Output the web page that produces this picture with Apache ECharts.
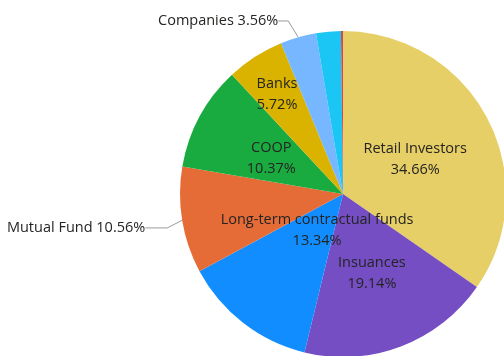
<!DOCTYPE html>
<html>
<head>
<meta charset="utf-8">
<script src="https://cdn.jsdelivr.net/npm/echarts@6/dist/echarts.min.js"></script>
<style>
  html, body { margin: 0; padding: 0; background: #ffffff; }
  #chart { width: 504px; height: 356px; }
</style>
</head>
<body>
<div id="chart"></div>
<script>
// Ownership structure by investor type (share of total, %)
const holders = ['Retail Investors', 'Insuances', 'Long-term contractual funds', 'Mutual Fund',
                 'COOP', 'Banks', 'Companies', 'Foreign Investors', 'Others'];
const shares = [34.66, 19.14, 13.34, 10.56, 10.37, 5.72, 3.56, 2.45, 0.20];

const palette = ['#E6CF66', '#744EC2', '#118DFF', '#E66C37', '#1AAB40',
                 '#D9B300', '#76B7FF', '#1BC6F4', '#D64550'];

// how each slice is labelled: inside the slice, outside with a leader line, or not at all
const labelMode = ['inside', 'inside', 'inside', 'outside', 'inside', 'inside', 'outside', 'none', 'none'];
// radial position (fraction of radius) for inside labels; default is the mid ring
const labelRadius = { 2: 0.26, 5: 0.75 };
// leader line lengths for outside labels
const leader = { 3: [10, 22], 6: [18, 10] };
// extra vertical drop for outside labels
const outsideDrop = { 3: 6, 6: 1 };

const CX = 343, CY = 194, R = 163;
const total = shares.reduce((a, b) => a + b, 0);

// mid angle of each slice, measured clockwise from 12 o'clock
const midAngle = [];
let acc = 0;
shares.forEach(v => {
  midAngle.push((acc + v / 2) / total * 2 * Math.PI);
  acc += v;
});

const textStyle = { fontFamily: 'Open Sans', fontSize: 14.5, color: '#252423' };

const data = holders.map((name, i) => {
  const item = { name: name, value: shares[i], itemStyle: { color: palette[i] } };
  if (labelMode[i] === 'inside') {
    item.label = Object.assign({ show: true, position: 'inside', formatter: '{b}\n{c}%', lineHeight: 21 }, textStyle);
    item.labelLine = { show: false };
  } else if (labelMode[i] === 'outside') {
    item.label = Object.assign({ show: true, position: 'outside', formatter: '{b} {c}%' }, textStyle);
    item.labelLine = { show: true, length: leader[i][0], length2: leader[i][1],
                       lineStyle: { color: '#9a9a9a', width: 1 } };
  } else {
    item.label = { show: false };
    item.labelLine = { show: false };
  }
  return item;
});

const chart = echarts.init(document.getElementById('chart'), null, { renderer: 'canvas' });
chart.setOption({
  animation: false,
  backgroundColor: '#ffffff',
  series: [{
    type: 'pie',
    center: [CX, CY],
    radius: [0, R],
    startAngle: 90,
    clockwise: true,
    avoidLabelOverlap: false,
    itemStyle: { borderWidth: 0 },
    emphasis: { disabled: true },
    data: data,
    labelLayout: function (params) {
      const i = params.dataIndex;
      if (labelMode[i] === 'outside') {
        const r = params.labelRect;
        return { y: r.y + r.height / 2 + (outsideDrop[i] || 0) };
      }
      if (labelMode[i] !== 'inside') return {};
      const k = labelRadius[i] !== undefined ? labelRadius[i] : 0.5;
      const a = midAngle[i];
      return { x: CX + R * k * Math.sin(a), y: CY - R * k * Math.cos(a) + 3 };
    }
  }]
});
</script>
</body>
</html>
